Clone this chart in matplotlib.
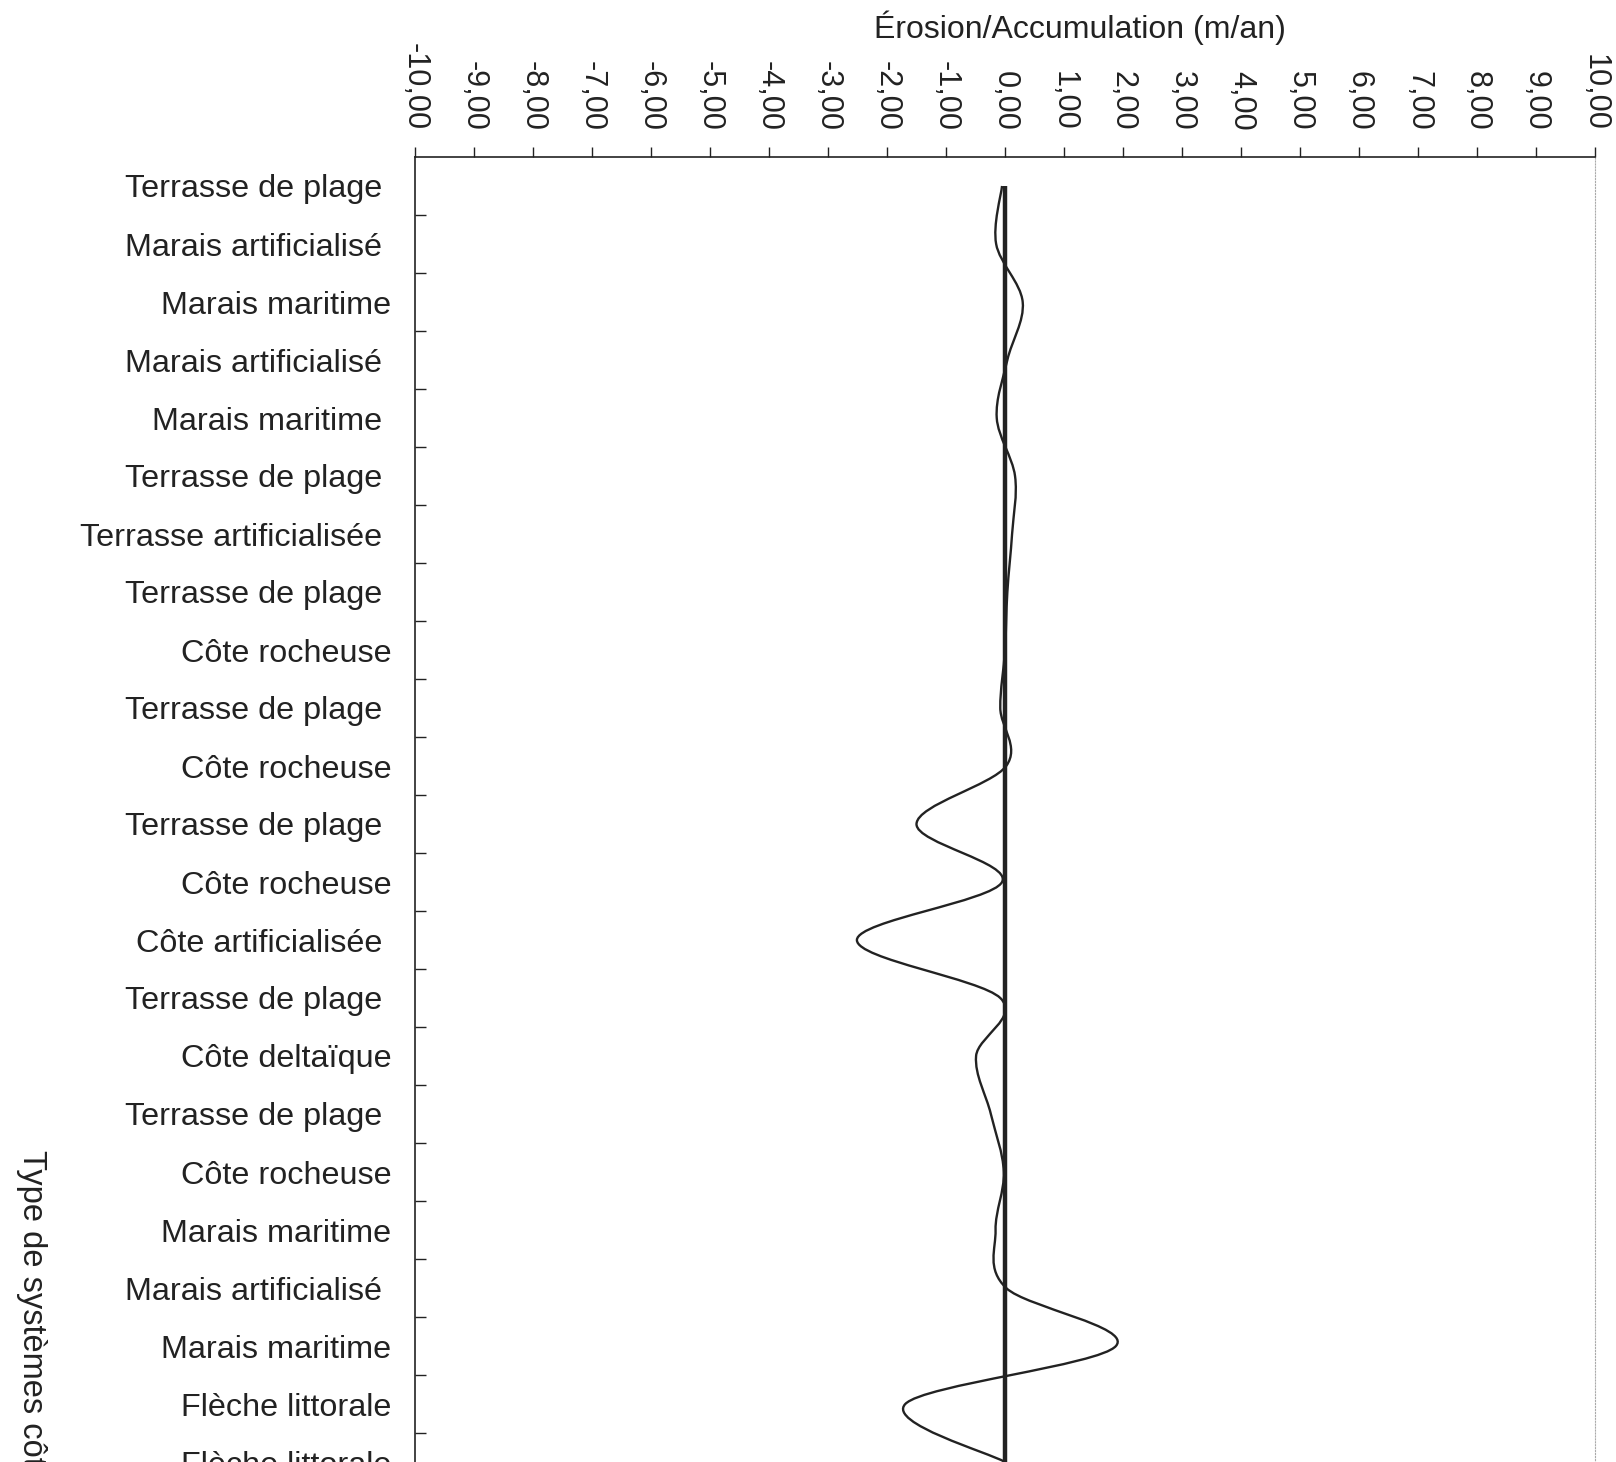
import numpy as np
import matplotlib.pyplot as plt
from matplotlib.path import Path
from matplotlib.patches import PathPatch

plt.rcParams['font.family'] = ['Liberation Sans', 'DejaVu Sans']

# Coastal system types, top to bottom (chart is cut off below the last one)
categories = [
    "Terrasse de plage ", "Marais artificialisé ", "Marais maritime",
    "Marais artificialisé ", "Marais maritime ", "Terrasse de plage ",
    "Terrasse artificialisée ", "Terrasse de plage ", "Côte rocheuse",
    "Terrasse de plage ", "Côte rocheuse", "Terrasse de plage ",
    "Côte rocheuse", "Côte artificialisée ", "Terrasse de plage ",
    "Côte deltaïque", "Terrasse de plage ", "Côte rocheuse",
    "Marais maritime", "Marais artificialisé ", "Marais maritime",
    "Flèche littorale", "Flèche littorale",
]
# Erosion / accumulation rate (m/an)
rates = [-0.05, -0.15, 0.30, 0.04, -0.14, 0.17, 0.12, 0.04, 0.00, -0.08,
         0.02, -1.50, -0.05, -2.51, -0.08, -0.49, -0.24, -0.02, -0.16,
         0.02, 1.88, -1.69, 0.00]
baseline = [0.0] * len(rates)
xticks = np.arange(-10, 11, 1)

ink = '#222222'


def smooth_path(xs, ys):
    """Excel-like smoothed line: cubic Bezier segments through every point."""
    p = np.column_stack([xs, ys]).astype(float)
    ext = np.vstack([p[0], p, p[-1]])
    verts = [p[0]]
    codes = [Path.MOVETO]
    for i in range(len(p) - 1):
        p0, p1, p2, p3 = ext[i], ext[i + 1], ext[i + 2], ext[i + 3]
        verts += [p1 + (p2 - p0) / 6, p2 - (p3 - p1) / 6, p2]
        codes += [Path.CURVE4] * 3
    return Path(verts, codes)


fig = plt.figure(figsize=(16.16, 14.62), dpi=100)
n_rows = len(categories) + 1
ax_h = n_rows * 58 / 1462
ax_top = 1 - 157 / 1462
ax = fig.add_axes([415 / 1616, ax_top - ax_h, 1180 / 1616, ax_h])

ypos = np.arange(len(categories))

# baseline (thick zero series) and smoothed data line
ax.plot(baseline, ypos, color=ink, lw=3.2, solid_capstyle='butt', zorder=2)
ax.add_patch(PathPatch(smooth_path(rates, ypos), facecolor='none',
                       edgecolor=ink, lw=1.7, zorder=3))

ax.set_xlim(-10, 10)
ax.set_ylim(n_rows - 0.5, -0.5)

# top value axis
ax.xaxis.tick_top()
ax.set_xticks(xticks)
ax.set_xticklabels([f"{v:.2f}".replace('.', ',') for v in xticks],
                   rotation=270, fontsize=22, color=ink)
ax.tick_params(axis='x', direction='out', length=7, width=1, pad=12,
               colors=ink)
ax.xaxis.set_label_position('top')
ax.set_xlabel("Érosion/Accumulation (m/an)", fontsize=23, color=ink,
              va='center')
ax.xaxis.set_label_coords(0.5636, 1 + (157 - 28) / (n_rows * 58))

# category axis
ax.set_yticks(ypos)
ax.set_yticklabels(categories, fontsize=23.3, color=ink)
ax.set_yticks(np.arange(0.5, n_rows - 0.5, 1), minor=True)
ax.tick_params(axis='y', which='major', length=0, pad=17)
ax.tick_params(axis='y', which='minor', direction='in', length=8, width=1,
               colors=ink)

for side in ['top', 'left']:
    ax.spines[side].set_color(ink)
    ax.spines[side].set_linewidth(1.2)
ax.spines['right'].set_color('#aaaaaa')
ax.spines['right'].set_linestyle(':')
ax.spines['bottom'].set_visible(False)

fig.text(31 / 1616, 1 - 1150 / 1462, "Type de systèmes côtiers",
         rotation=270, fontsize=23.5, color=ink, ha='center', va='top')

fig.savefig('out.png', dpi=100)
